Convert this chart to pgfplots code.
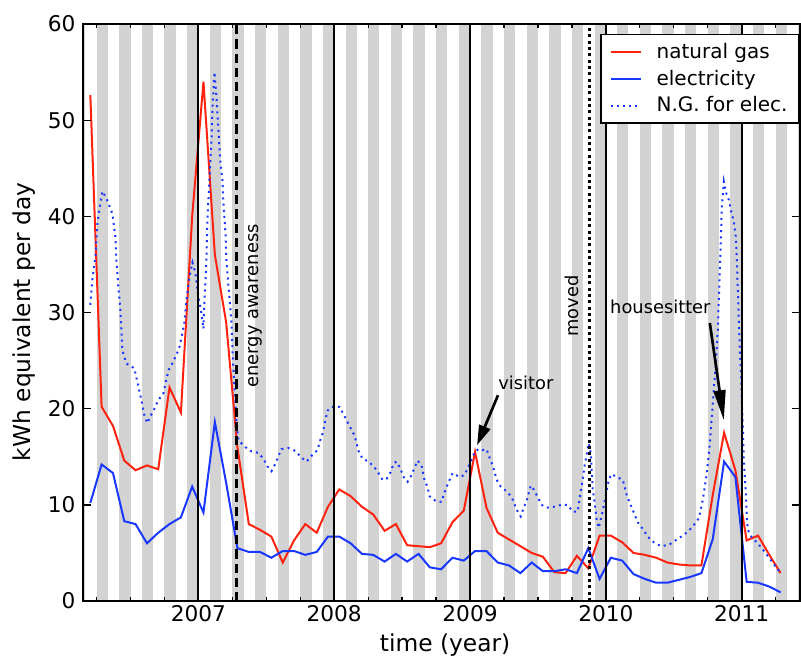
\documentclass[border=0pt]{standalone}
\usepackage{fontspec}
\setmainfont{DejaVu Sans}
\usepackage{pgfplots}
\pgfplotsset{compat=1.18}
\usetikzlibrary{arrows.meta}
\definecolor{ngred}{RGB}{255,35,15}
\definecolor{elblue}{RGB}{25,55,255}
\definecolor{stripe}{RGB}{211,211,211}
\begin{document}
\begin{tikzpicture}
\begin{axis}[
  scale only axis, width=430.2pt, height=346.2pt,
  xmin=2006.15, xmax=2011.43, ymin=0, ymax=60,
  xtick={2007,2008,2009,2010,2011},
  minor xtick={2006.25,2006.5,2006.75,2007.25,2007.5,2007.75,2008.25,2008.5,2008.75,2009.25,2009.5,2009.75,2010.25,2010.5,2010.75,2011.25},
  ytick={0,10,20,30,40,50,60},
  /pgf/number format/.cd, 1000 sep={}, assume math mode=true, /pgfplots/.cd,
  tick align=inside, major tick length=5pt, minor tick length=2.5pt,
  every tick/.style={black, line width=0.8pt},
  axis line style={line width=1.4pt},
  axis on top,
  tick label style={font=\fontsize{13}{15}\selectfont},
  xticklabel style={yshift=1pt},
  yticklabel style={xshift=-1pt},
  label style={font=\fontsize{14}{16}\selectfont},
  xlabel={time (year)}, ylabel={kWh equivalent per day},
  xlabel style={at={(axis description cs:0.505,-0.076)}, anchor=center},
  ylabel style={at={(axis description cs:-0.082,0.484)}, anchor=center},
  legend style={at={(1,0.983)}, anchor=north east, draw=black, line width=1pt,
    font=\fontsize{12}{14}\selectfont, row sep=1.5pt, inner xsep=5pt, inner ysep=3pt,
    cells={anchor=west}},
  legend image code/.code={\draw[#1] (0pt,0pt) -- (18pt,0pt); \path (25pt,0pt);},
]
\pgfplotsinvokeforeach{2006,2007,2008,2009,2010,2011}{
  \fill[stripe] (axis cs:#1.08333,0) rectangle (axis cs:#1.16667,60);
  \fill[stripe] (axis cs:#1.25,0) rectangle (axis cs:#1.33333,60);
  \fill[stripe] (axis cs:#1.41667,0) rectangle (axis cs:#1.5,60);
  \fill[stripe] (axis cs:#1.58333,0) rectangle (axis cs:#1.66667,60);
  \fill[stripe] (axis cs:#1.75,0) rectangle (axis cs:#1.83333,60);
  \fill[stripe] (axis cs:#1.91667,0) rectangle (axis cs:#1.9999,60);
}
\addplot[ngred, line width=1.2pt] coordinates {
(2006.204,52.6) (2006.287,20.2) (2006.371,18.2) (2006.454,14.6) (2006.537,13.6)
(2006.621,14.1) (2006.704,13.7) (2006.787,22.2) (2006.871,19.6) (2006.954,40.0)
(2007.037,54.0) (2007.121,36.0) (2007.204,29.0) (2007.287,16.0) (2007.371,8.0)
(2007.454,7.4) (2007.537,6.7) (2007.621,4.0) (2007.704,6.3) (2007.787,8.0)
(2007.871,7.1) (2007.954,9.8) (2008.037,11.6) (2008.121,10.9) (2008.204,9.8)
(2008.287,9.0) (2008.371,7.3) (2008.454,8.0) (2008.537,5.8) (2008.621,5.7)
(2008.704,5.6) (2008.787,6.0) (2008.871,8.2) (2008.954,9.4) (2009.037,15.5)
(2009.121,9.7) (2009.204,7.1) (2009.287,6.4) (2009.371,5.7) (2009.454,5.0)
(2009.537,4.6) (2009.621,3.0) (2009.704,2.9) (2009.787,4.7) (2009.871,3.4)
(2009.954,6.8) (2010.037,6.8) (2010.121,6.1) (2010.204,5.0) (2010.287,4.8)
(2010.371,4.5) (2010.454,4.0) (2010.537,3.8) (2010.621,3.7) (2010.704,3.7)
(2010.787,11.0) (2010.871,17.5) (2010.954,13.6) (2011.037,6.3) (2011.121,6.8)
(2011.204,4.8) (2011.287,2.9)
};
\addlegendentry{natural gas}
\addplot[elblue, line width=1.2pt] coordinates {
(2006.204,10.2) (2006.287,14.2) (2006.371,13.3) (2006.454,8.3) (2006.537,8.0)
(2006.621,6.0) (2006.704,7.1) (2006.787,8.0) (2006.871,8.7) (2006.954,11.9)
(2007.037,9.2) (2007.121,18.6) (2007.204,12.3) (2007.287,5.5) (2007.371,5.1)
(2007.454,5.1) (2007.537,4.5) (2007.621,5.2) (2007.704,5.2) (2007.787,4.8)
(2007.871,5.1) (2007.954,6.7) (2008.037,6.7) (2008.121,6.0) (2008.204,4.9)
(2008.287,4.8) (2008.371,4.1) (2008.454,4.9) (2008.537,4.1) (2008.621,4.9)
(2008.704,3.5) (2008.787,3.3) (2008.871,4.5) (2008.954,4.2) (2009.037,5.2)
(2009.121,5.2) (2009.204,4.0) (2009.287,3.7) (2009.371,2.9) (2009.454,4.0)
(2009.537,3.1) (2009.621,3.1) (2009.704,3.3) (2009.787,2.9) (2009.871,5.5)
(2009.954,2.3) (2010.037,4.5) (2010.121,4.2) (2010.204,2.8) (2010.287,2.3)
(2010.371,1.9) (2010.454,1.9) (2010.537,2.2) (2010.621,2.5) (2010.704,2.9)
(2010.787,6.4) (2010.871,14.5) (2010.954,12.9) (2011.037,2.0) (2011.121,1.9)
(2011.204,1.5) (2011.287,0.9)
};
\addlegendentry{electricity}
\addplot[elblue, line width=1.2pt, dash pattern=on 1.2pt off 2.5pt] coordinates {
(2006.204,30.8) (2006.219,33.4) (2006.241,35.8) (2006.256,39.3) (2006.278,41.4)
(2006.293,42.6) (2006.322,41.9) (2006.344,41.1) (2006.366,40.3) (2006.388,37.9)
(2006.396,35.5) (2006.410,32.7) (2006.425,30.3) (2006.440,26.1) (2006.469,24.7)
(2006.528,24.2) (2006.550,22.8) (2006.580,20.9) (2006.602,19.3) (2006.624,18.5)
(2006.646,19.2) (2006.676,20.0) (2006.705,20.9) (2006.742,21.6) (2006.779,24.0)
(2006.808,24.7) (2006.838,25.6) (2006.860,26.4) (2006.882,27.9) (2006.897,29.0)
(2006.912,31.3) (2006.934,33.7) (2006.956,35.2) (2006.978,34.1) (2006.993,32.3)
(2007.022,29.9) (2007.037,28.3) (2007.044,31.1) (2007.059,35.5) (2007.066,39.6)
(2007.081,43.8) (2007.096,47.9) (2007.103,51.1) (2007.118,55.0) (2007.133,52.4)
(2007.147,49.0) (2007.162,45.5) (2007.177,43.8) (2007.184,41.4) (2007.199,38.3)
(2007.206,35.5) (2007.221,32.7) (2007.236,30.3) (2007.243,29.2) (2007.251,25.8)
(2007.265,22.3) (2007.280,18.8) (2007.295,16.7) (2007.346,16.0) (2007.383,15.6)
(2007.442,15.4) (2007.479,14.8) (2007.508,14.0) (2007.538,13.5) (2007.567,14.3)
(2007.590,15.1) (2007.612,15.8) (2007.663,15.9) (2007.715,15.6) (2007.752,15.0)
(2007.796,14.5) (2007.833,15.1) (2007.877,15.7) (2007.892,16.5) (2007.914,17.4)
(2007.936,18.9) (2007.951,19.8) (2007.980,20.2) (2008.039,20.2) (2008.069,19.4)
(2008.098,18.6) (2008.150,17.2) (2008.179,15.6) (2008.209,14.8) (2008.253,14.5)
(2008.297,13.9) (2008.326,13.3) (2008.356,12.6) (2008.385,12.7) (2008.415,13.4)
(2008.437,14.3) (2008.459,14.5) (2008.489,13.7) (2008.511,12.9) (2008.540,12.4)
(2008.570,13.1) (2008.592,13.9) (2008.614,14.6) (2008.643,14.1) (2008.665,12.6)
(2008.688,11.8) (2008.702,10.9) (2008.747,10.4) (2008.791,10.3) (2008.805,11.0)
(2008.828,11.9) (2008.850,12.6) (2008.872,13.3) (2008.923,12.9) (2008.960,13.1)
(2008.982,13.8) (2009.012,14.7) (2009.034,15.5) (2009.063,15.8) (2009.093,15.7)
(2009.122,15.8) (2009.144,14.9) (2009.167,14.1) (2009.196,12.6) (2009.226,11.9)
(2009.270,11.4) (2009.307,10.8) (2009.329,10.0) (2009.351,9.3) (2009.373,8.8)
(2009.395,9.7) (2009.417,10.4) (2009.447,12.0) (2009.469,11.6) (2009.498,10.8)
(2009.528,10.0) (2009.564,9.7) (2009.616,9.8) (2009.675,10.0) (2009.719,10.0)
(2009.756,9.3) (2009.793,9.3) (2009.808,10.8) (2009.830,12.6) (2009.844,14.1)
(2009.859,15.2) (2009.874,16.4) (2009.889,15.4) (2009.896,13.6) (2009.903,11.7)
(2009.918,10.2) (2009.933,8.4) (2009.948,7.6) (2009.970,8.9) (2009.985,9.9)
(2010.007,11.5) (2010.021,12.6) (2010.043,13.2) (2010.080,12.9) (2010.125,12.6)
(2010.154,11.0) (2010.176,10.2) (2010.206,9.2) (2010.235,8.2) (2010.272,7.5)
(2010.309,6.7) (2010.361,6.0) (2010.412,5.7) (2010.471,5.9) (2010.523,6.4)
(2010.567,6.8) (2010.611,7.3) (2010.648,7.9) (2010.685,8.6) (2010.714,10.5)
(2010.744,13.3) (2010.766,16.4) (2010.788,20.6) (2010.810,24.7) (2010.825,28.2)
(2010.832,31.3) (2010.839,34.1) (2010.847,37.5) (2010.854,41.0) (2010.869,43.6)
(2010.884,42.5) (2010.906,41.7) (2010.920,40.7) (2010.943,39.4) (2010.957,37.9)
(2010.965,35.5) (2010.972,32.3) (2010.979,29.5) (2010.987,26.1) (2010.994,24.0)
(2011.009,18.1) (2011.016,14.7) (2011.031,11.2) (2011.038,8.7) (2011.046,7.4)
(2011.075,6.6) (2011.112,6.1) (2011.149,5.5) (2011.186,4.8) (2011.223,4.1)
(2011.260,3.4) (2011.289,2.9)
};
\addlegendentry{N.G. for elec.}
\addplot[black, line width=1.2pt, forget plot] coordinates {(2007,0) (2007,60)};
\addplot[black, line width=1.2pt, forget plot] coordinates {(2008,0) (2008,60)};
\addplot[black, line width=1.2pt, forget plot] coordinates {(2009,0) (2009,60)};
\addplot[black, line width=1.2pt, forget plot] coordinates {(2010,0) (2010,60)};
\addplot[black, line width=1.2pt, forget plot] coordinates {(2011,0) (2011,60)};
\addplot[black, line width=1.8pt, dash pattern=on 5.5pt off 3pt, forget plot] coordinates {(2007.28,0) (2007.28,60)};
\addplot[black, line width=1.8pt, dash pattern=on 1.8pt off 2pt, forget plot] coordinates {(2009.88,0) (2009.88,60)};
\node[rotate=90, anchor=west, font=\fontsize{10.7}{12}\selectfont] at (axis cs:2007.42,21.6) {energy awareness};
\node[rotate=90, anchor=west, font=\fontsize{10.7}{12}\selectfont] at (axis cs:2009.753,26.9) {moved};
\node[anchor=west, font=\fontsize{10.7}{12}\selectfont, inner sep=0pt] at (axis cs:2010.03,30.6) {housesitter};
\node[anchor=west, font=\fontsize{10.7}{12}\selectfont, inner sep=0pt] at (axis cs:2009.206,22.7) {visitor};
\draw[line width=1.6pt, -{Triangle[length=12pt,width=7pt]}] (axis cs:2009.206,21.4) -- (axis cs:2009.052,16.2);
\draw[line width=1.6pt, -{Triangle[length=18pt,width=7pt]}] (axis cs:2010.766,28.9) -- (axis cs:2010.869,18.8);
\end{axis}
\pgfresetboundingbox
\path[use as bounding box] (-49.8pt,-34.2pt) rectangle (430.8pt,360.6pt);
\end{tikzpicture}
\end{document}
